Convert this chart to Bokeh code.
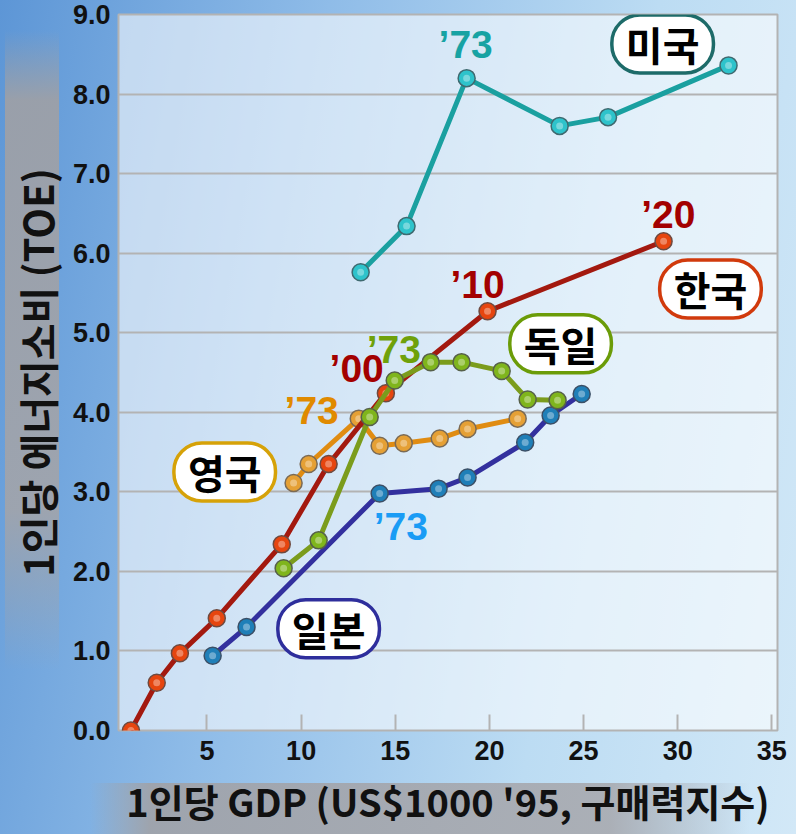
from bokeh.plotting import figure
from bokeh.models import Label, FixedTicker, NumeralTickFormatter, Range1d
from bokeh.embed import file_html
from bokeh.resources import INLINE

# ---------------- data (per-capita GDP, US$1000 '95 PPP ; per-capita energy, TOE)
korea_gdp = [0.96, 2.33, 3.56, 5.52, 8.97, 11.46, 14.5, 19.9, 29.25]
korea_toe = [0.00, 0.60, 0.97, 1.41, 2.34, 3.35, 4.24, 5.27, 6.15]

usa_gdp = [13.16, 15.6, 18.79, 21.1, 23.73, 26.3, 32.7]
usa_toe = [5.76, 6.34, 8.20, 7.92, 7.60, 7.71, 8.36]
usa_has_marker = [True, True, True, False, True, True, True]

germany_gdp = [9.07, 10.93, 13.64, 14.97, 16.88, 18.52, 20.65, 22.03, 23.62]
germany_toe = [2.04, 2.39, 3.94, 4.40, 4.63, 4.63, 4.52, 4.16, 4.15]

uk_gdp = [9.6, 10.4, 13.06, 14.17, 15.45, 17.36, 18.84, 21.5]
uk_toe = [3.11, 3.35, 3.92, 3.58, 3.61, 3.67, 3.79, 3.92]

japan_gdp = [5.3, 7.1, 14.17, 17.3, 18.84, 21.9, 23.25, 24.9]
japan_toe = [0.94, 1.30, 2.98, 3.04, 3.18, 3.62, 3.96, 4.23]

x_ticks = [5, 10, 15, 20, 25, 30, 35]
y_ticks = [0, 1, 2, 3, 4, 5, 6, 7, 8, 9]

# year annotations: (text, x, y, color)
year_labels = [
    ("\u201973", 18.74, 8.62, "#17a3a3"),
    ("\u201920", 29.5, 6.49, "#a30000"),
    ("\u201910", 19.37, 5.61, "#a30000"),
    ("\u201900", 12.95, 4.55, "#a30000"),
    ("\u201973", 14.92, 4.79, "#6fa10a"),
    ("\u201973", 10.56, 4.02, "#e08a00"),
    ("\u201973", 15.29, 2.57, "#1a9cf5"),
]

# country name boxes: (text, x, y, border color)
country_labels = [
    ("미국", 29.2, 8.63, "#1d6b69"),
    ("한국", 31.74, 5.55, "#d13a0c"),
    ("독일", 23.78, 4.86, "#6b9c08"),
    ("영국", 5.94, 3.25, "#d6a208"),
    ("일본", 11.46, 1.28, "#2e2e9c"),
]

series = [
    # name, x, y, line color, marker fill, marker edge
    ("japan", japan_gdp, japan_toe, "#33309e", "#1f7fb8", "#3b4f66"),
    ("uk", uk_gdp, uk_toe, "#e08c12", "#e5a035", "#7a6a55"),
    ("korea", korea_gdp, korea_toe, "#a3190f", "#e6450f", "#6e4a40"),
    ("germany", germany_gdp, germany_toe, "#7b9c1c", "#7fb51c", "#56604a"),
    ("usa", usa_gdp, usa_toe, "#1aa0a0", "#2ec3cb", "#3f6a70"),
]

# ---------------- figure
p = figure(width=796, height=834, output_backend="svg", toolbar_location=None,
           x_range=Range1d(0.3, 35.3), y_range=Range1d(0, 9),
           min_border_left=118, min_border_right=19, min_border_top=14, min_border_bottom=104)

p.border_fill_color = None
p.background_fill_color = "white"
p.background_fill_alpha = 0.58
p.outline_line_color = "#b3b3b3"
p.outline_line_width = 2
p.styles = {
    "background": (
        "linear-gradient(to bottom, rgba(150,155,165,0) 0px, rgba(158,160,166,0.92) 70px, "
        "rgba(162,164,170,0.9) 480px, rgba(150,155,165,0) 640px) no-repeat 5px 30px / 54px 640px, "
        "linear-gradient(to right, rgba(150,155,165,0) 0px, rgba(160,162,168,0.92) 60px, "
        "rgba(168,170,176,0.9) 520px, rgba(170,175,185,0) 660px) no-repeat 90px 783px / 680px 51px, "
        "linear-gradient(100deg, #5d96d6 0%, #8fbce8 35%, #bcdcf3 70%, #d2e8f7 100%)"
    )
}

p.xgrid.grid_line_color = None
p.ygrid.grid_line_color = "#b3b3b3"
p.ygrid.grid_line_width = 2
p.ygrid.grid_line_alpha = 1.0

p.xaxis.ticker = FixedTicker(ticks=x_ticks)
p.yaxis.ticker = FixedTicker(ticks=y_ticks)
p.yaxis.formatter = NumeralTickFormatter(format="0.0")

for ax in (p.xaxis[0], p.yaxis[0]):
    ax.axis_line_color = None
    ax.minor_tick_line_color = None
    ax.major_label_text_font = "Liberation Sans"
    ax.major_label_text_font_style = "bold"
    ax.major_label_text_font_size = "27px"
    ax.major_label_text_color = "#111111"
    ax.axis_label_text_font = "Noto Sans CJK KR"
    ax.axis_label_text_font_style = "bold"
    ax.axis_label_text_color = "#111111"

p.yaxis.major_tick_line_color = None
p.yaxis.major_tick_out = 0
p.yaxis.major_tick_in = 0
p.yaxis.major_label_standoff = 8
p.yaxis.axis_label = "1인당 에너지소비 (TOE)"
p.yaxis.axis_label_text_font_size = "40px"
p.yaxis.axis_label_standoff = 4

p.xaxis.major_tick_in = 16
p.xaxis.major_tick_out = 0
p.xaxis.major_tick_line_color = "#b3b3b3"
p.xaxis.major_tick_line_width = 2
p.xaxis.major_label_standoff = 10
p.xaxis.axis_label = "1인당 GDP (US$1000 '95, 구매력지수)"
p.xaxis.axis_label_text_font_size = "38px"
p.xaxis.axis_label_standoff = 10

# ---------------- series
for name, xs, ys, lc, fc, ec in series:
    p.line(xs, ys, line_color=lc, line_width=5, line_join="round")
    if name == "usa":
        mx = [x for x, m in zip(xs, usa_has_marker) if m]
        my = [y for y, m in zip(ys, usa_has_marker) if m]
    else:
        mx, my = xs, ys
    p.scatter(mx, my, marker="circle", size=17, fill_color=fc, line_color=ec, line_width=1.5)
    p.scatter(mx, my, marker="circle", size=7, fill_color="white", fill_alpha=0.35, line_color=None)

# ---------------- year annotations
for txt, x, y, col in year_labels:
    p.add_layout(Label(x=x, y=y, text=txt, text_align="center", text_baseline="middle",
                       text_font="Liberation Sans", text_font_style="bold",
                       text_font_size="39px", text_color=col))

# ---------------- country name boxes
for txt, x, y, col in country_labels:
    p.add_layout(Label(x=x, y=y, text=txt, text_align="center", text_baseline="middle",
                       text_font="Noto Sans CJK KR", text_font_style="bold",
                       text_font_size="40px", text_color="#000000",
                       background_fill_color="white", border_line_color=col,
                       border_line_width=3.5,
                       padding=dict(left=14, right=14, top=0, bottom=0),
                       border_radius=28))

open("out.html", "w").write(file_html(p, INLINE))
